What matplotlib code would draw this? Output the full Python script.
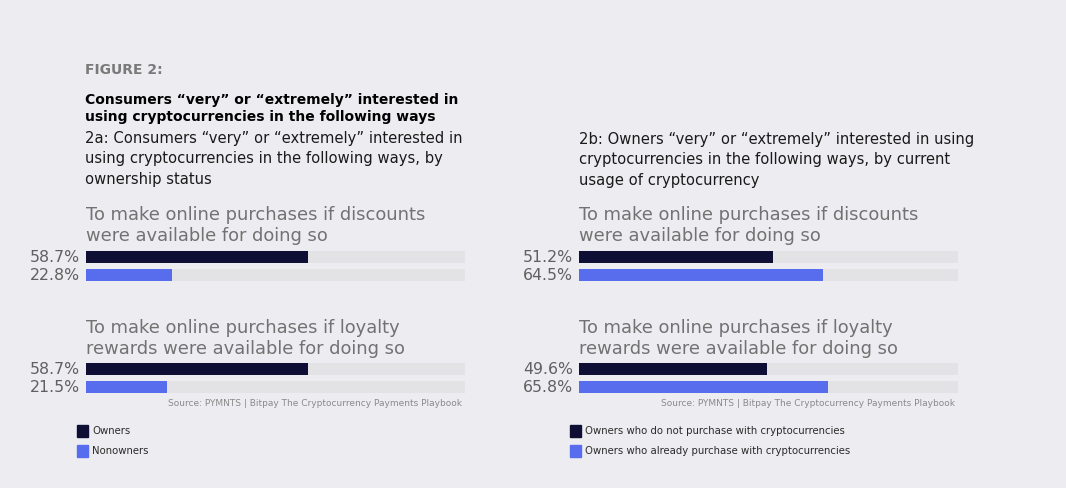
import matplotlib
matplotlib.use("Agg")
import matplotlib.pyplot as plt
from matplotlib.patches import Rectangle

# data
categories = [
    "To make online purchases if discounts\nwere available for doing so",
    "To make online purchases if loyalty\nrewards were available for doing so",
]
left_series = ["Owners", "Nonowners"]
left_owners = [58.7, 58.7]
left_nonowners = [22.8, 21.5]

right_series = ["Owners who do not purchase with cryptocurrencies",
                "Owners who already purchase with cryptocurrencies"]
right_nonbuyers = [51.2, 49.6]
right_buyers = [64.5, 65.8]

fig_title = "FIGURE 2:"
main_title = "Consumers “very” or “extremely” interested in\nusing cryptocurrencies in the following ways"
left_sub = "2a: Consumers “very” or “extremely” interested in\nusing cryptocurrencies in the following ways, by\nownership status"
right_sub = "2b: Owners “very” or “extremely” interested in using\ncryptocurrencies in the following ways, by current\nusage of cryptocurrency"
source = "Source: PYMNTS | Bitpay The Cryptocurrency Payments Playbook"

BG = "#EDEDF1"
TRACK = "#E3E3E6"
NAVY = "#0F0F36"
BLUE = "#586CEE"
W, H = 1066, 488

fig = plt.figure(figsize=(W / 100, H / 100), dpi=100, facecolor=BG)


def px(x, y):
    # pixel coords (from top-left) -> figure fraction
    return x / W, 1 - y / H


def bar_group(x0, top, vals):
    left, bottom = px(x0, top + 36)
    ax = fig.add_axes([left, bottom, 379 / W, 36 / H])
    ax.set_facecolor("none")
    ax.barh([0, 1], [100, 100], height=0.67, color=TRACK)
    ax.barh([0, 1], vals, height=0.67, color=[NAVY, BLUE])
    ax.set_xlim(0, 100)
    ax.set_ylim(1.5, -0.5)
    ax.axis("off")
    for i, v in enumerate(vals):
        ax.text(-0.016, i, f"{v}%", transform=ax.get_yaxis_transform(),
                ha="right", va="center", fontsize=11.3, color="#606060")
    return ax


# headers
fig.text(*px(85, 70), fig_title, fontsize=10, fontweight="bold", color="#7a7a7a", va="center")
fig.text(*px(85, 108.5), main_title, fontsize=10, fontweight="heavy", color="black",
         va="center", linespacing=1.2)
fig.text(*px(85, 159), left_sub, fontsize=10.6, color="#1a1a1a", va="center", linespacing=1.42)
fig.text(*px(579, 160), right_sub, fontsize=10.6, color="#1a1a1a", va="center", linespacing=1.42)

panels = [
    (86, left_owners, left_nonowners, left_series, 77),
    (579, right_nonbuyers, right_buyers, right_series, 570),
]
for x0, s1, s2, names, lx in panels:
    for k, cat in enumerate(categories):
        ytxt = 225.5 + k * 113
        fig.text(*px(x0, ytxt), cat, fontsize=12.9, color="#727272", va="center",
                 linespacing=1.17)
        bar_group(x0, 248 + k * 112, [s1[k], s2[k]])
    fig.text(*px(x0 + 376, 404), source, fontsize=6.45, color="#8a8a8a",
             ha="right", va="center")
    for j, name in enumerate(names):
        yy = 431 + j * 20
        fx, fy = px(lx, yy + 6)
        fig.patches.append(Rectangle((fx, fy), 11 / W, 12 / H, transform=fig.transFigure,
                                     color=[NAVY, BLUE][j]))
        fig.text(*px(lx + 15, yy), name, fontsize=7.3, color="#2a2a2a", va="center")

fig.savefig("out.png", dpi=100, facecolor=BG)
